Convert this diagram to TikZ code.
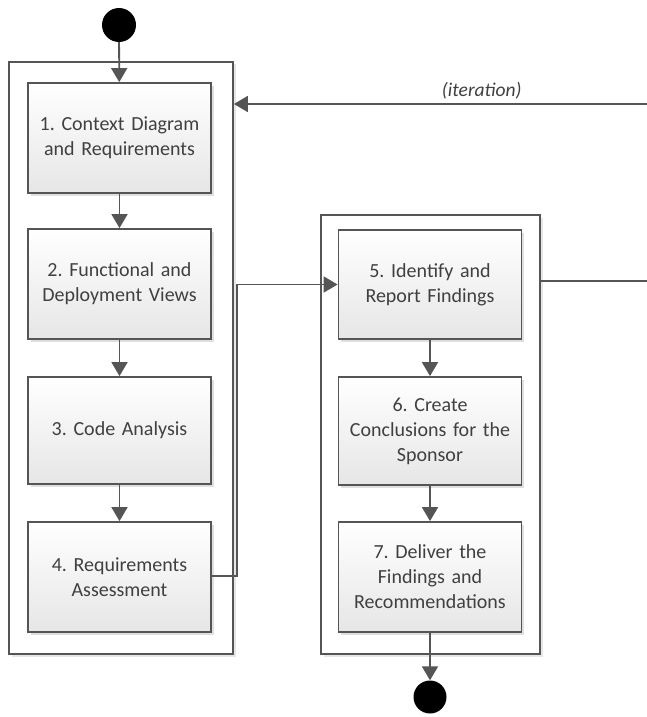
\documentclass[tikz,border=0pt]{standalone}
\usepackage{fontspec}
\setmainfont{Carlito}
\usetikzlibrary{arrows.meta,shadows}
\definecolor{linec}{HTML}{555555}
\definecolor{textc}{HTML}{404040}
\definecolor{boxbot}{HTML}{E6E6E6}
\tikzset{
  stepbox/.style={draw=linec, line width=1.8pt, top color=white, bottom color=boxbot,
    minimum width=183pt, text width=180pt, align=center, inner sep=0pt,
    text=textc, font=\fontsize{20}{25}\selectfont,
    drop shadow={shadow xshift=2.5pt, shadow yshift=-2.5pt, opacity=0.25, fill=gray}},
  framebox/.style={draw=linec, line width=1.8pt, fill=white, inner sep=0pt,
    drop shadow={shadow xshift=2.5pt, shadow yshift=-2.5pt, opacity=0.2, fill=gray}},
  dot/.style={circle, fill=black, inner sep=0pt, minimum size=#1},
  conn/.style={draw=linec, line width=1.8pt, -{Triangle[width=16pt,length=14pt]}},
  plain/.style={draw=linec, line width=1.8pt},
}
\begin{document}
\frenchspacing
\begin{tikzpicture}[x=1pt,y=-1pt]
\useasboundingbox (0,0) rectangle (647,717);
% frames
\node[framebox, minimum width=224pt, minimum height=592pt] (lf) at (121,358) {};
\node[framebox, minimum width=219pt, minimum height=439pt] (rf) at (430.5,434.5) {};
% start / end
\node[dot=34pt] (start) at (119,25) {};
\node[dot=33pt] (end) at (430,697) {};
% boxes
\node[stepbox, minimum height=110pt] (b1) at (119.5,138) {1. Context Diagram\\and Requirements};
\node[stepbox, minimum height=110pt] (b2) at (119.5,284) {2. Functional and\\Deployment Views};
\node[stepbox, minimum height=107pt] (b3) at (119.5,430.5) {3. Code Analysis};
\node[stepbox, minimum height=110pt] (b4) at (119.5,577) {4. Requirements\\Assessment};
\node[stepbox, minimum height=109pt] (b5) at (430,284.5) {5. Identify and\\Report Findings};
\node[stepbox, minimum height=108pt] (b6) at (430,431) {6. Create\\Conclusions for the\\Sponsor};
\node[stepbox, minimum height=110pt] (b7) at (430,577) {7. Deliver the\\Findings and\\Recommendations};
% connectors
\draw[conn] (start) -- (b1);
\draw[conn] (b1) -- (b2);
\draw[conn] (b2) -- (b3);
\draw[conn] (b3) -- (b4);
\draw[conn] (b5) -- (b6);
\draw[conn] (b6) -- (b7);
\draw[conn] (b7) -- (end);
\coordinate (jx) at (237,576);
\draw[conn] (b4.east |- jx) -- (jx) -- (jx |- b5.west) -- (b5.west);
\coordinate (itr) at (647,281);
\coordinate (itt) at (647,104);
\draw[plain] (rf.east |- itr) -- (itr);
\draw[conn] (itt) -- node[above=1pt, text=textc, font=\fontsize{19.5}{22}\selectfont\itshape, pos=0.4] {(iteration)} (lf.east |- itt);
\end{tikzpicture}
\end{document}
